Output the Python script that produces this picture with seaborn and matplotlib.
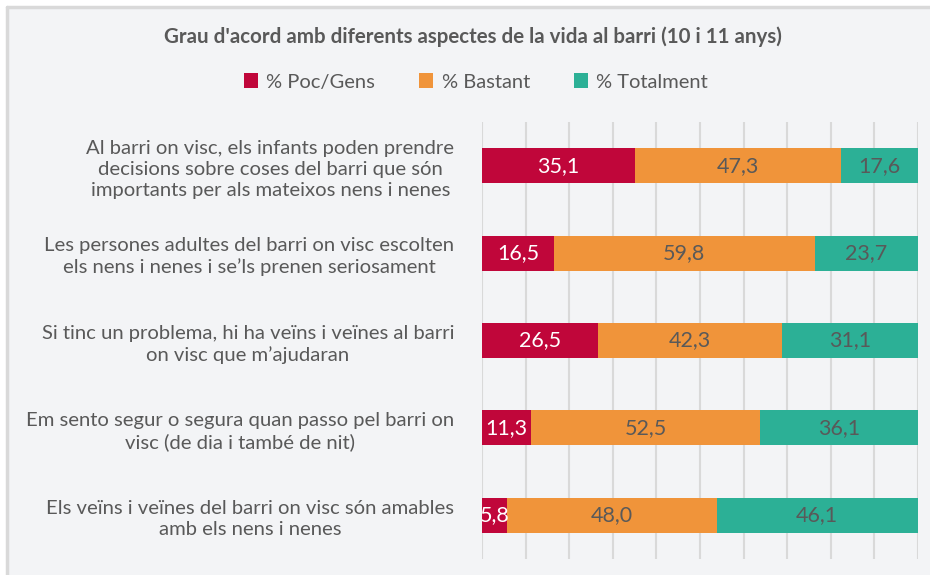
import matplotlib
matplotlib.use("Agg")
import matplotlib.pyplot as plt
import matplotlib.patches as mpatches
import seaborn as sns
import pandas as pd
import numpy as np

# Survey items and answer shares (%)
items = [
    "Al barri on visc, els infants poden prendre\ndecisions sobre coses del barri que són\nimportants per als mateixos nens i nenes",
    "Les persones adultes del barri on visc escolten\nels nens i nenes i se’ls prenen seriosament",
    "Si tinc un problema, hi ha veïns i veïnes al barri\non visc que m’ajudaran",
    "Em sento segur o segura quan passo pel barri on\nvisc (de dia i també de nit)",
    "Els veïns i veïnes del barri on visc són amables\namb els nens i nenes",
]
poc_gens = [35.1, 16.5, 26.5, 11.3, 5.8]
bastant = [47.3, 59.8, 42.3, 52.5, 48.0]
totalment = [17.6, 23.7, 31.1, 36.1, 46.1]

series_names = ["% Poc/Gens", "% Bastant", "% Totalment"]
colors = ["#C0063A", "#F0943A", "#2CB096"]
label_colors = ["white", "#595959", "#595959"]
text_gray = "#595959"
bg = "#F3F4F6"

sns.set_theme(style="white")
plt.rcParams["font.family"] = ["Lato", "DejaVu Sans"]

W, H = 930, 575
fig = plt.figure(figsize=(W / 100, H / 100), dpi=100)
fig.patch.set_facecolor("white")

# Chart panel with thin border on top and left
fig.patches.append(mpatches.Rectangle((7 / W, 0), 1, 1 - 7 / H, transform=fig.transFigure,
                                      facecolor=bg, edgecolor="none", zorder=-10))
fig.lines.append(plt.Line2D([7 / W, 1], [1 - 7 / H, 1 - 7 / H], transform=fig.transFigure,
                            color="#D9D9D9", lw=2.5, zorder=-9))
fig.lines.append(plt.Line2D([7 / W, 7 / W], [0, 1 - 7 / H], transform=fig.transFigure,
                            color="#D9D9D9", lw=2.5, zorder=-9))

ax = fig.add_axes([482 / W, 16 / H, (918 - 482) / W, (559 - 122) / H])
ax.set_facecolor("none")

df = pd.DataFrame({"item": items, "poc": poc_gens, "bastant": bastant, "totalment": totalment})
df["c1"] = df["poc"]
df["c2"] = df["poc"] + df["bastant"]
df["c3"] = df["c2"] + df["totalment"]

# Stacked bars drawn as cumulative layers, widest first
for col, color in zip(["c3", "c2", "c1"], colors[::-1]):
    sns.barplot(data=df, x=col, y="item", orient="h", color=color, width=0.4,
                saturation=1, ax=ax, zorder=3, edgecolor="none", linewidth=0)

# Value labels centred in each segment
vals = [poc_gens, bastant, totalment]
for s in range(3):
    for i in range(len(items)):
        start = sum(vals[k][i] for k in range(s))
        v = vals[s][i]
        ax.text(start + v / 2, i, f"{v:.1f}".replace(".", ","), ha="center", va="center",
                color=label_colors[s], fontsize=15.5, zorder=5, clip_on=True)

ax.set_xlim(0, 100)
ax.set_ylim(len(items) - 0.5, -0.5)
ax.set_xticks(np.arange(0, 101, 10))
ax.xaxis.grid(True, color="#D9D9D9", lw=1.5, zorder=0)
ax.set_axisbelow(True)
ax.tick_params(axis="x", bottom=False, labelbottom=False)
ax.tick_params(axis="y", left=False, pad=14)
for lab in ax.get_yticklabels():
    lab.set_multialignment("center")
    lab.set_linespacing(1.3)
    lab.set_color(text_gray)
    lab.set_fontsize(14.6)
ax.set_xlabel("")
ax.set_ylabel("")
for sp in ax.spines.values():
    sp.set_visible(False)

fig.text(473 / W, 1 - 37 / H, "Grau d'acord amb diferents aspectes de la vida al barri (10 i 11 anys)",
         ha="center", va="center", fontsize=14.8, fontweight="bold", color=text_gray)

handles = [mpatches.Patch(facecolor=c, edgecolor="none", label=n) for c, n in zip(colors, series_names)]
fig.legend(handles=handles, loc="center", bbox_to_anchor=(476 / W, 1 - 82 / H), ncol=3,
           frameon=False, fontsize=14.5, handlelength=0.7, handleheight=0.7, handletextpad=0.4,
           columnspacing=2.2, labelcolor=text_gray)

fig.savefig("out.png", dpi=100, facecolor=fig.get_facecolor())
